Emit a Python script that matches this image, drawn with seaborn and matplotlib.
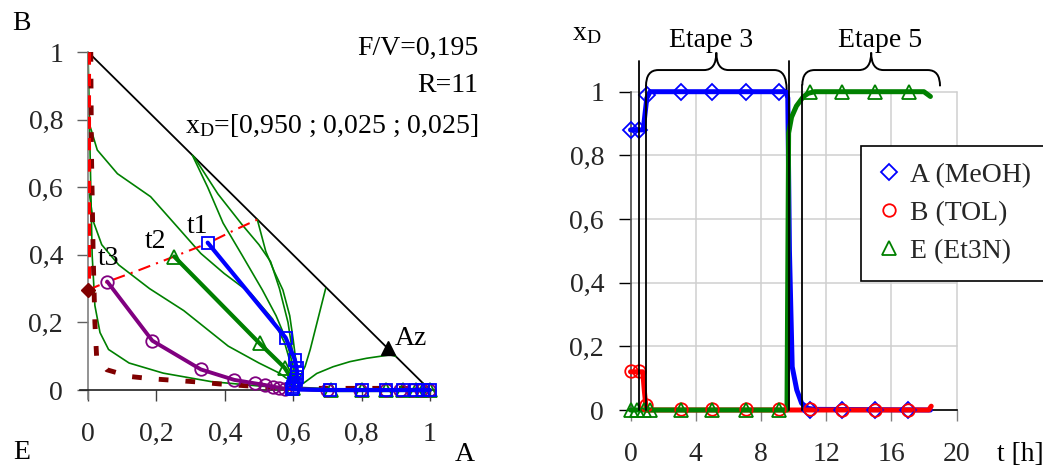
import numpy as np
import matplotlib
matplotlib.use('Agg')
import matplotlib.pyplot as plt
import seaborn as sns
from matplotlib.lines import Line2D
from matplotlib.path import Path
from matplotlib.patches import PathPatch
from matplotlib.ticker import FixedLocator, FixedFormatter

# ---------------- LEFT PANEL DATA (composition diagram, x = A, y = B) ----------------
hyp_x = [0.0, 1.0]
hyp_y = [1.0, 0.0]

# residue curves (thin green)
rc1_x = [0.0, 0.004, 0.008, 0.012, 0.02, 0.035, 0.06, 0.12, 0.22, 0.36, 0.5, 0.58, 0.6]
rc1_y = [1.0, 0.8, 0.6, 0.4, 0.25, 0.17, 0.12, 0.08, 0.05, 0.025, 0.012, 0.006, 0.0]
rc2_x = [0.003, 0.027, 0.086, 0.183, 0.261, 0.33, 0.398, 0.476, 0.54, 0.575, 0.595, 0.6]
rc2_y = [0.79, 0.71, 0.64, 0.572, 0.483, 0.404, 0.345, 0.286, 0.21, 0.14, 0.07, 0.02]
rc3_x = [0.004, 0.015, 0.04, 0.09, 0.18, 0.28, 0.41, 0.5, 0.56, 0.6]
rc3_y = [0.58, 0.5, 0.43, 0.37, 0.3, 0.235, 0.13, 0.08, 0.05, 0.02]
rc4_x = [0.305, 0.35, 0.395, 0.45, 0.51, 0.55, 0.58, 0.60, 0.607]
rc4_y = [0.695, 0.6, 0.494, 0.40, 0.296, 0.22, 0.148, 0.07, 0.02]
rc5_x = [0.31, 0.38, 0.45, 0.5, 0.534, 0.56, 0.585, 0.6, 0.61]
rc5_y = [0.69, 0.58, 0.49, 0.43, 0.38, 0.30, 0.2, 0.1, 0.03]
rc6_x = [0.495, 0.52, 0.545, 0.57, 0.59, 0.60, 0.61, 0.615]
rc6_y = [0.505, 0.41, 0.35, 0.296, 0.22, 0.15, 0.07, 0.02]
rc7_x = [0.695, 0.68, 0.665, 0.65, 0.635, 0.62, 0.61]
rc7_y = [0.30, 0.24, 0.18, 0.12, 0.07, 0.04, 0.02]
rc8_x = [0.9, 0.883, 0.815, 0.766, 0.717, 0.669, 0.63, 0.61]
rc8_y = [0.1, 0.104, 0.094, 0.084, 0.069, 0.049, 0.02, 0.01]

# boundaries
red_vert_x = [0.003, 0.003]
red_vert_y = [1.0, 0.3]
red_dd_x = [0.0, 0.056, 0.15, 0.252, 0.35, 0.43, 0.497]
red_dd_y = [0.296, 0.32, 0.355, 0.395, 0.434, 0.474, 0.505]
maroon_x = [0.008, 0.01, 0.015, 0.02, 0.025, 0.055, 0.123, 0.19, 0.32, 0.385, 0.5, 0.6, 0.8, 1.0]
maroon_y = [1.0, 0.7, 0.4, 0.2, 0.1, 0.06, 0.04, 0.033, 0.024, 0.018, 0.01, 0.005, 0.005, 0.005]
maroon_pt_x = [0.0]
maroon_pt_y = [0.297]

# still trajectories
t1_x = [0.35, 0.578, 0.605, 0.61, 0.612, 0.61, 0.607, 0.603, 0.6, 0.598, 0.708, 0.80, 0.873, 0.92, 0.96, 0.98, 1.0]
t1_y = [0.436, 0.155, 0.09, 0.065, 0.05, 0.04, 0.03, 0.02, 0.01, 0.002, 0, 0, 0, 0, 0, 0, 0]
t2_x = [0.252, 0.502, 0.575, 0.598, 0.6, 0.71, 0.80, 0.873, 0.92, 0.96, 0.98, 1.0]
t2_y = [0.395, 0.138, 0.066, 0.03, 0.005, 0, 0, 0, 0, 0, 0, 0]
t3_x = [0.056, 0.188, 0.33, 0.428, 0.487, 0.517, 0.541, 0.56, 0.575, 0.698, 0.796, 0.872, 0.914, 0.948, 0.975, 0.997]
t3_y = [0.321, 0.146, 0.061, 0.03, 0.02, 0.015, 0.01, 0.007, 0.004, 0, 0, 0, 0, 0, 0, 0]

az_x = [0.877]
az_y = [0.123]

ternary_ticks = [0, 0.2, 0.4, 0.6, 0.8, 1.0]
ternary_labels = ['0', '0,2', '0,4', '0,6', '0,8', '1']

# ---------------- RIGHT PANEL DATA (distillate composition vs time) ----------------
tA = [0, 0.5, 0.78, 1.0, 1.2, 9.55, 9.65, 9.75, 9.92, 10.2, 10.5, 10.9, 11.3, 18.4]
xA = [0.88, 0.88, 0.88, 0.98, 1.0, 1.0, 0.98, 0.5, 0.136, 0.063, 0.021, 0.005, 0.002, 0.0]
tB = [0, 0.5, 0.75, 0.85, 0.95, 1.1, 18.3, 18.45]
xB = [0.12, 0.12, 0.12, 0.06, 0.01, 0.0, 0.0, 0.012]
tE = [0, 9.6, 9.7, 9.88, 10.18, 10.6, 10.9, 11.3, 18.0, 18.4]
xE = [0, 0, 0.87, 0.92, 0.955, 0.984, 0.995, 1.0, 1.0, 0.985]

tA_m = [0, 0.5, 1.0, 3.1, 5.0, 7.1, 9.1, 11.0, 13.0, 15.0, 17.0]
xA_m = [0.88, 0.88, 0.99, 1, 1, 1, 1, 0, 0, 0, 0]
tB_m = [0, 0.5, 0.95, 3.1, 5.0, 7.1, 9.1, 11.0, 13.0, 15.0, 17.0]
xB_m = [0.122, 0.122, 0.015, 0.003, 0.003, 0.003, 0.003, 0.003, 0.0, 0.0, 0.0]
tE_m = [0, 0.4, 0.8, 1.2, 3.1, 5.0, 7.1, 9.1, 11.0, 13.0, 15.0, 17.1]
xE_m = [0, 0, 0, 0, 0, 0, 0, 0, 1, 1, 1, 1]

series_labels = ['A (MeOH)', 'B (TOL)', 'E (Et3N)']
time_ticks = [0, 4, 8, 12, 16, 20]
time_labels = ['0', '4', '8', '12', '16', '20']
frac_ticks = [0, 0.2, 0.4, 0.6, 0.8, 1.0]
frac_labels = ['0', '0,2', '0,4', '0,6', '0,8', '1']

step_lines_t = [0.54, 0.95, 9.72, 10.54]
step_lines_top = [1.095, 1.017, 1.095, 1.02]

# ---------------- STYLE ----------------
sns.set_theme(style='white')
plt.rcParams['font.family'] = ['Liberation Serif', 'DejaVu Serif']
plt.rcParams['mathtext.fontset'] = 'custom'
plt.rcParams['mathtext.rm'] = 'Liberation Serif'
plt.rcParams['mathtext.it'] = 'Liberation Serif:italic'
FS = 20

W, H = 1043, 467
fig = plt.figure(figsize=(W / 100, H / 100), dpi=100)
fig.patch.set_facecolor('white')


def fx(px):
    return px / W


def fy(py):
    return 1 - py / H


def line(ax, x, y, **kw):
    sns.lineplot(x=np.asarray(x, float), y=np.asarray(y, float), ax=ax, sort=False,
                 estimator=None, legend=False, **kw)


BLUE = '#0000FF'
RED = '#FF0000'
GREEN = '#008000'
PURPLE = '#800080'
MAROON = '#800000'

# ================= LEFT AXES =================
ax1 = fig.add_axes([79.5 / W, 1 - 398.5 / H, 355.5 / W, 346.5 / H])
ax1.set_facecolor('none')
ax1.set_xlim(-0.025, 1.015)
ax1.set_ylim(-0.025, 1.0)
for s in ['top', 'right']:
    ax1.spines[s].set_visible(False)
ax1.spines['left'].set_position(('data', 0))
ax1.spines['bottom'].set_position(('data', 0))
ax1.spines['left'].set_color('#808080')
ax1.spines['bottom'].set_color('#202020')
ax1.spines['left'].set_linewidth(1.2)
ax1.spines['bottom'].set_linewidth(1.2)
ax1.xaxis.set_major_locator(FixedLocator(ternary_ticks))
ax1.xaxis.set_major_formatter(FixedFormatter(ternary_labels))
ax1.yaxis.set_major_locator(FixedLocator(ternary_ticks))
ax1.yaxis.set_major_formatter(FixedFormatter(ternary_labels))
ax1.tick_params(axis='x', direction='out', length=8, width=1, color='#404040',
                labelsize=FS, pad=15, bottom=True)
ax1.tick_params(axis='y', direction='out', length=8, width=1, color='#606060',
                labelsize=FS, pad=10, left=True)
ax1.set_xlabel('')
ax1.set_ylabel('')

line(ax1, hyp_x, hyp_y, color='black', lw=1.3, zorder=2)
for xs, ys in [(rc1_x, rc1_y), (rc2_x, rc2_y), (rc3_x, rc3_y), (rc4_x, rc4_y),
               (rc5_x, rc5_y), (rc6_x, rc6_y), (rc7_x, rc7_y), (rc8_x, rc8_y)]:
    line(ax1, xs, ys, color=GREEN, lw=1.2, zorder=2)

line(ax1, maroon_x, maroon_y, color=MAROON, lw=3.5, linestyle=(0, (2, 3.5)), zorder=3, clip_on=False)
line(ax1, red_vert_x, red_vert_y, color=RED, lw=2.2, linestyle=(0, (4, 3)), zorder=3)
line(ax1, red_dd_x, red_dd_y, color=RED, lw=1.5, linestyle=(0, (6, 3, 1, 3)), zorder=3)
line(ax1, maroon_pt_x, maroon_pt_y, color=MAROON, linestyle='none', marker='D', markersize=7,
     markerfacecolor=MAROON, markeredgecolor=MAROON, markeredgewidth=1, zorder=6, clip_on=False)

line(ax1, t2_x, t2_y, color=GREEN, lw=3, marker='^', markersize=10, markerfacecolor='none',
     markeredgecolor=GREEN, markeredgewidth=1.3, zorder=4, clip_on=False)
line(ax1, t3_x, t3_y, color=PURPLE, lw=2.8, marker='o', markersize=9, markerfacecolor='none',
     markeredgecolor=PURPLE, markeredgewidth=1.3, zorder=4, clip_on=False)
line(ax1, t1_x, t1_y, color=BLUE, lw=3, marker='s', markersize=8.5, markerfacecolor='none',
     markeredgecolor=BLUE, markeredgewidth=1.3, zorder=5, clip_on=False)

line(ax1, az_x, az_y, color='black', linestyle='none', marker='^', markersize=10,
     markerfacecolor='black', markeredgecolor='black', markeredgewidth=1, zorder=6, clip_on=False)

# ================= RIGHT AXES =================
ax2 = fig.add_axes([630.5 / W, 1 - 410 / H, 326 / W, 318.3 / H])
ax2.set_facecolor('none')
ax2.set_xlim(0, 20)
ax2.set_ylim(0, 1)
ax2.spines['top'].set_visible(False)
ax2.spines['right'].set_visible(False)
ax2.spines['left'].set_color('#505050')
ax2.spines['bottom'].set_color('black')
ax2.spines['left'].set_linewidth(1.2)
ax2.spines['bottom'].set_linewidth(1.2)
ax2.xaxis.set_major_locator(FixedLocator(time_ticks))
ax2.xaxis.set_major_formatter(FixedFormatter(time_labels))
ax2.yaxis.set_major_locator(FixedLocator(frac_ticks))
ax2.yaxis.set_major_formatter(FixedFormatter(frac_labels))
ax2.grid(True, color='#cfcfcf', lw=1.1)
ax2.set_axisbelow(True)
ax2.tick_params(axis='x', direction='out', length=8, width=1, color='#808080',
                labelsize=FS, pad=15, bottom=True)
ax2.tick_params(axis='y', direction='out', length=9, width=1, color='black',
                labelsize=FS, pad=10, left=True)
for gl in ax2.get_xgridlines() + ax2.get_ygridlines():
    gl.set_clip_on(False)

line(ax2, tA, xA, color=BLUE, lw=3.6, zorder=3, clip_on=False)
line(ax2, tB, xB, color=RED, lw=3.6, zorder=3, clip_on=False)
line(ax2, tE, xE, color=GREEN, lw=3.6, zorder=3, clip_on=False)

line(ax2, tA_m, xA_m, color=BLUE, linestyle='none', marker='D', markersize=8,
     markerfacecolor='none', markeredgecolor=BLUE, markeredgewidth=1.3, zorder=4, clip_on=False)
line(ax2, tB_m, xB_m, color=RED, linestyle='none', marker='o', markersize=9,
     markerfacecolor='none', markeredgecolor=RED, markeredgewidth=1.3, zorder=4, clip_on=False)
line(ax2, tE_m, xE_m, color=GREEN, linestyle='none', marker='^', markersize=10,
     markerfacecolor='none', markeredgecolor=GREEN, markeredgewidth=1.3, zorder=4, clip_on=False)

for t, top in zip(step_lines_t, step_lines_top):
    ax2.plot([t, t], [0, top], color='black', lw=1.3, zorder=5, clip_on=False)


def brace(ax, x0, x1, y0, y1, yh, ytip, dx):
    xc = (x0 + x1) / 2
    verts = [(x0, y0), (x0, yh), (x0 + dx, yh), (xc - dx, yh), (xc, yh), (xc, ytip),
             (xc, yh), (xc + dx, yh), (x1 - dx, yh), (x1, yh), (x1, y1)]
    codes = [Path.MOVETO, Path.CURVE3, Path.CURVE3, Path.LINETO, Path.CURVE3, Path.CURVE3,
             Path.CURVE3, Path.CURVE3, Path.LINETO, Path.CURVE3, Path.CURVE3]
    p = PathPatch(Path(verts, codes), fill=False, lw=1.4, ec='black',
                  transform=ax.transData, clip_on=False, zorder=5)
    ax.add_patch(p)


brace(ax2, 0.95, 9.58, 1.017, 1.006, 1.068, 1.123, 0.75)
brace(ax2, 10.54, 18.99, 1.02, 1.017, 1.068, 1.123, 0.75)

handles = [
    Line2D([], [], linestyle='none', marker='D', markersize=8, markerfacecolor='none',
           markeredgecolor=BLUE, markeredgewidth=1.3),
    Line2D([], [], linestyle='none', marker='o', markersize=9, markerfacecolor='none',
           markeredgecolor=RED, markeredgewidth=1.3),
    Line2D([], [], linestyle='none', marker='^', markersize=10, markerfacecolor='none',
           markeredgecolor=GREEN, markeredgewidth=1.3),
]
leg = ax2.legend(handles, series_labels, loc='upper left',
                 bbox_to_anchor=(fx(861), fy(146)), bbox_transform=fig.transFigure,
                 fontsize=FS, frameon=True, fancybox=False, framealpha=1,
                 edgecolor='black', borderpad=0.6, handlelength=0.8,
                 handletextpad=0.35, labelspacing=0.45, borderaxespad=0)
leg.get_frame().set_linewidth(1.2)
leg.set_zorder(10)

# ================= TEXTS =================
def ftext(px, py, s, ha='center', va='baseline'):
    fig.text(fx(px), fy(py), s, ha=ha, va=va, fontsize=FS, color='black')


ftext(21.7, 30, 'B')
ftext(21.7, 459, 'E')
ftext(465, 461, 'A')
ftext(478, 55, 'F/V=0,195', ha='right')
ftext(478, 91.7, 'R=11', ha='right')
ftext(478, 133, r'x$_\mathrm{D}$=[0,950 ; 0,025 ; 0,025]', ha='right')
ftext(198, 233, 't1')
ftext(156, 248, 't2')
ftext(109, 265, 't3')
ftext(395, 345, 'Az', ha='left')

ftext(587, 40, r'x$_\mathrm{D}$')
ftext(1020, 461, 't [h]')
ftext(710.7, 46.7, 'Etape 3')
ftext(880, 46.7, 'Etape 5')

fig.savefig('out.png', dpi=100)
